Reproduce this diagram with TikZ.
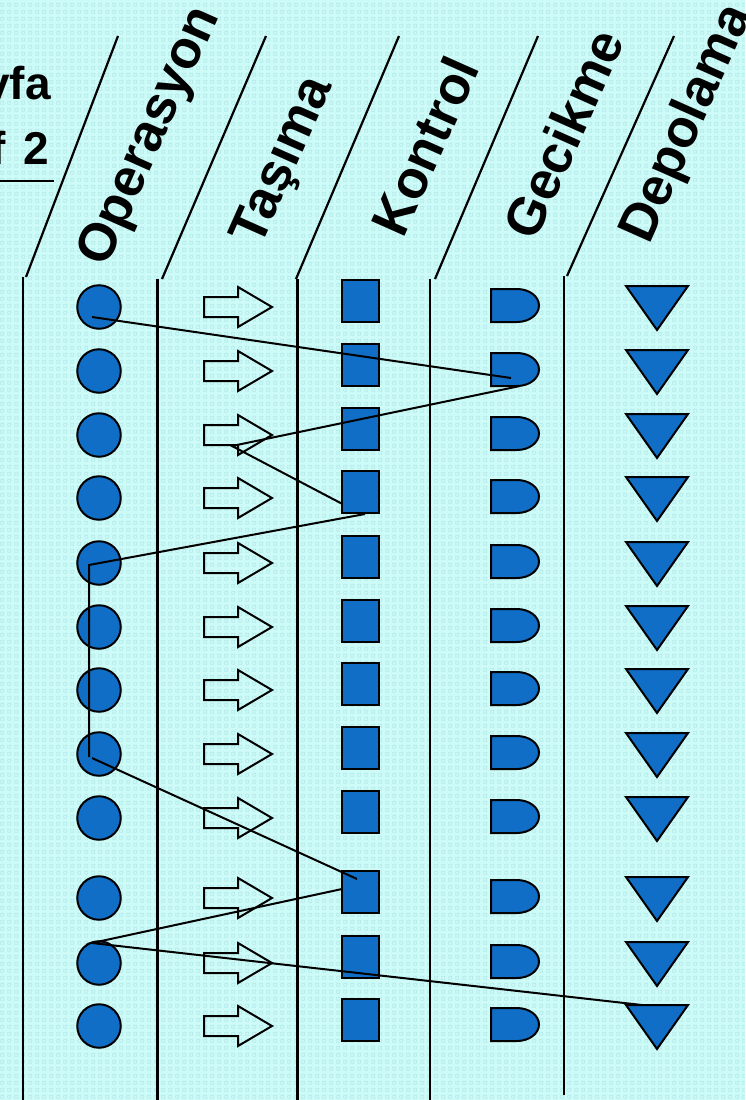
\documentclass[tikz,border=0pt]{standalone}
\usepackage{fontspec}
\setmainfont{Liberation Sans}
\usetikzlibrary{calc,patterns}
\definecolor{bgbase}{RGB}{205,252,248}
\definecolor{bgdot}{RGB}{180,233,233}
\definecolor{sym}{RGB}{17,110,198}
\pgfdeclarepatternformonly{bgtex}{\pgfqpoint{0pt}{0pt}}{\pgfqpoint{7.33pt}{7.33pt}}{\pgfqpoint{7.33pt}{7.33pt}}{%
  \pgfsetlinewidth{0.8pt}%
  \pgfpathrectangle{\pgfqpoint{2pt}{2pt}}{\pgfqpoint{3.3pt}{3.3pt}}%
  \pgfusepath{stroke}%
}
\begin{document}
\begin{tikzpicture}[x=1pt,y=-1pt,
  shp/.style={draw=black, fill=sym, line width=2pt},
  op/.style={shp, circle, minimum size=43.5pt, inner sep=0pt},
  ctl/.style={shp, rectangle, minimum width=37.5pt, minimum height=42pt, inner sep=0pt},
  lane/.style={line width=2.2pt},
  link/.style={line width=2pt},
  head/.style={font=\fontsize{53}{53}\selectfont\bfseries, rotate=66, inner sep=0pt},
  corner/.style={font=\fontsize{46}{46}\selectfont\bfseries, inner sep=0pt, anchor=base east},
  delaysym/.pic={\path[shp] (-24,-16.5) -- (2,-16.5) .. controls (14.15,-16.5) and (24,-9.1) .. (24,0) .. controls (24,9.1) and (14.15,16.5) .. (2,16.5) -- (-24,16.5) -- cycle; \coordinate (-c) at (0,0);},
  storesym/.pic={\path[shp] (-31,-21) -- (31,-21) -- (0,23) -- cycle; \coordinate (-c) at (0,0);},
  movesym/.pic={\draw[line width=2pt] (-34,-10) -- (0,-10) -- (0,-20) -- (34,0) -- (0,20) -- (0,10) -- (-34,10) -- cycle; \coordinate (-c) at (0,0);}
]
\useasboundingbox (0,0) rectangle (745,1100);
\clip (0,0) rectangle (745,1100);
\fill[bgbase] (0,0) rectangle (745,1100);
\fill[pattern=bgtex, pattern color=bgdot] (0,0) rectangle (745,1100);

% corner text
\node[corner] (ct1) at (51,99) {yfa};
\node[corner] (ct2) at (49.5,164) {f\hspace{5pt} 2};
\draw[line width=1.8pt] (0,181) -- (54,181);

% lanes
\draw[lane] (23,1100) -- (23,277);
\draw[lane] (26,277) -- (118,36);
\draw[lane] (157.5,1100) -- (157.5,279);
\draw[lane] (162,279) -- (266,36);
\draw[lane] (297.5,1100) -- (297.5,279);
\draw[lane] (296,279) -- (399,36);
\draw[lane] (430,1100) -- (430,279);
\draw[lane] (435,279) -- (538,36);
\draw[lane] (564,1095) -- (564,276);
\draw[lane] (567,276) -- (674,36);

% headers
\node[head] (h1) at (151,137) {Operasyon};
\node[head] (h2) at (285,162) {Taşıma};
\node[head] (h3) at (425,146) {Kontrol};
\node[head] (h4) at (563,134) {Gecikme};
\node[head] (h5) at (688,124) {Depolama};

% symbols
\foreach \i/\y in {1/307,2/371,3/435,4/498,5/563,6/627,7/690,8/754,9/818,10/898,11/963,12/1026} {
  \node[op] (o\i) at (99,\y) {};
  \pic (t\i) at (238,\y) {movesym};
  \node[ctl] (k\i) at (360.5,\y-6) {};
  \pic (d\i) at (515,\y-1.5) {delaysym};
  \pic (s\i) at (657,\y) {storesym};
}

% connectors
\coordinate (b1) at (232,446);
\draw[link] ($(o1)+(-7,10)$) -- ($(d2-c)+(-4,8.5)$);
\draw[link] ($(d2-c)+(5,16.5)$) -- (b1) -- ($(k4)+(-19,11.5)$);
\draw[link] ($(k4)+(4.5,22)$) -- ($(o5)+(-10,2)$) -- ($(o8)+(-10,3)$);
\draw[link] ($(o8)+(-7,4)$) -- ($(k10)+(-3.5,-13)$);
\draw[link] ($(k10)+(-18.5,-3)$) -- ($(o11)+(-7,-20)$) -- ($(s12-c)+(-15,-21)$);
\end{tikzpicture}
\end{document}
